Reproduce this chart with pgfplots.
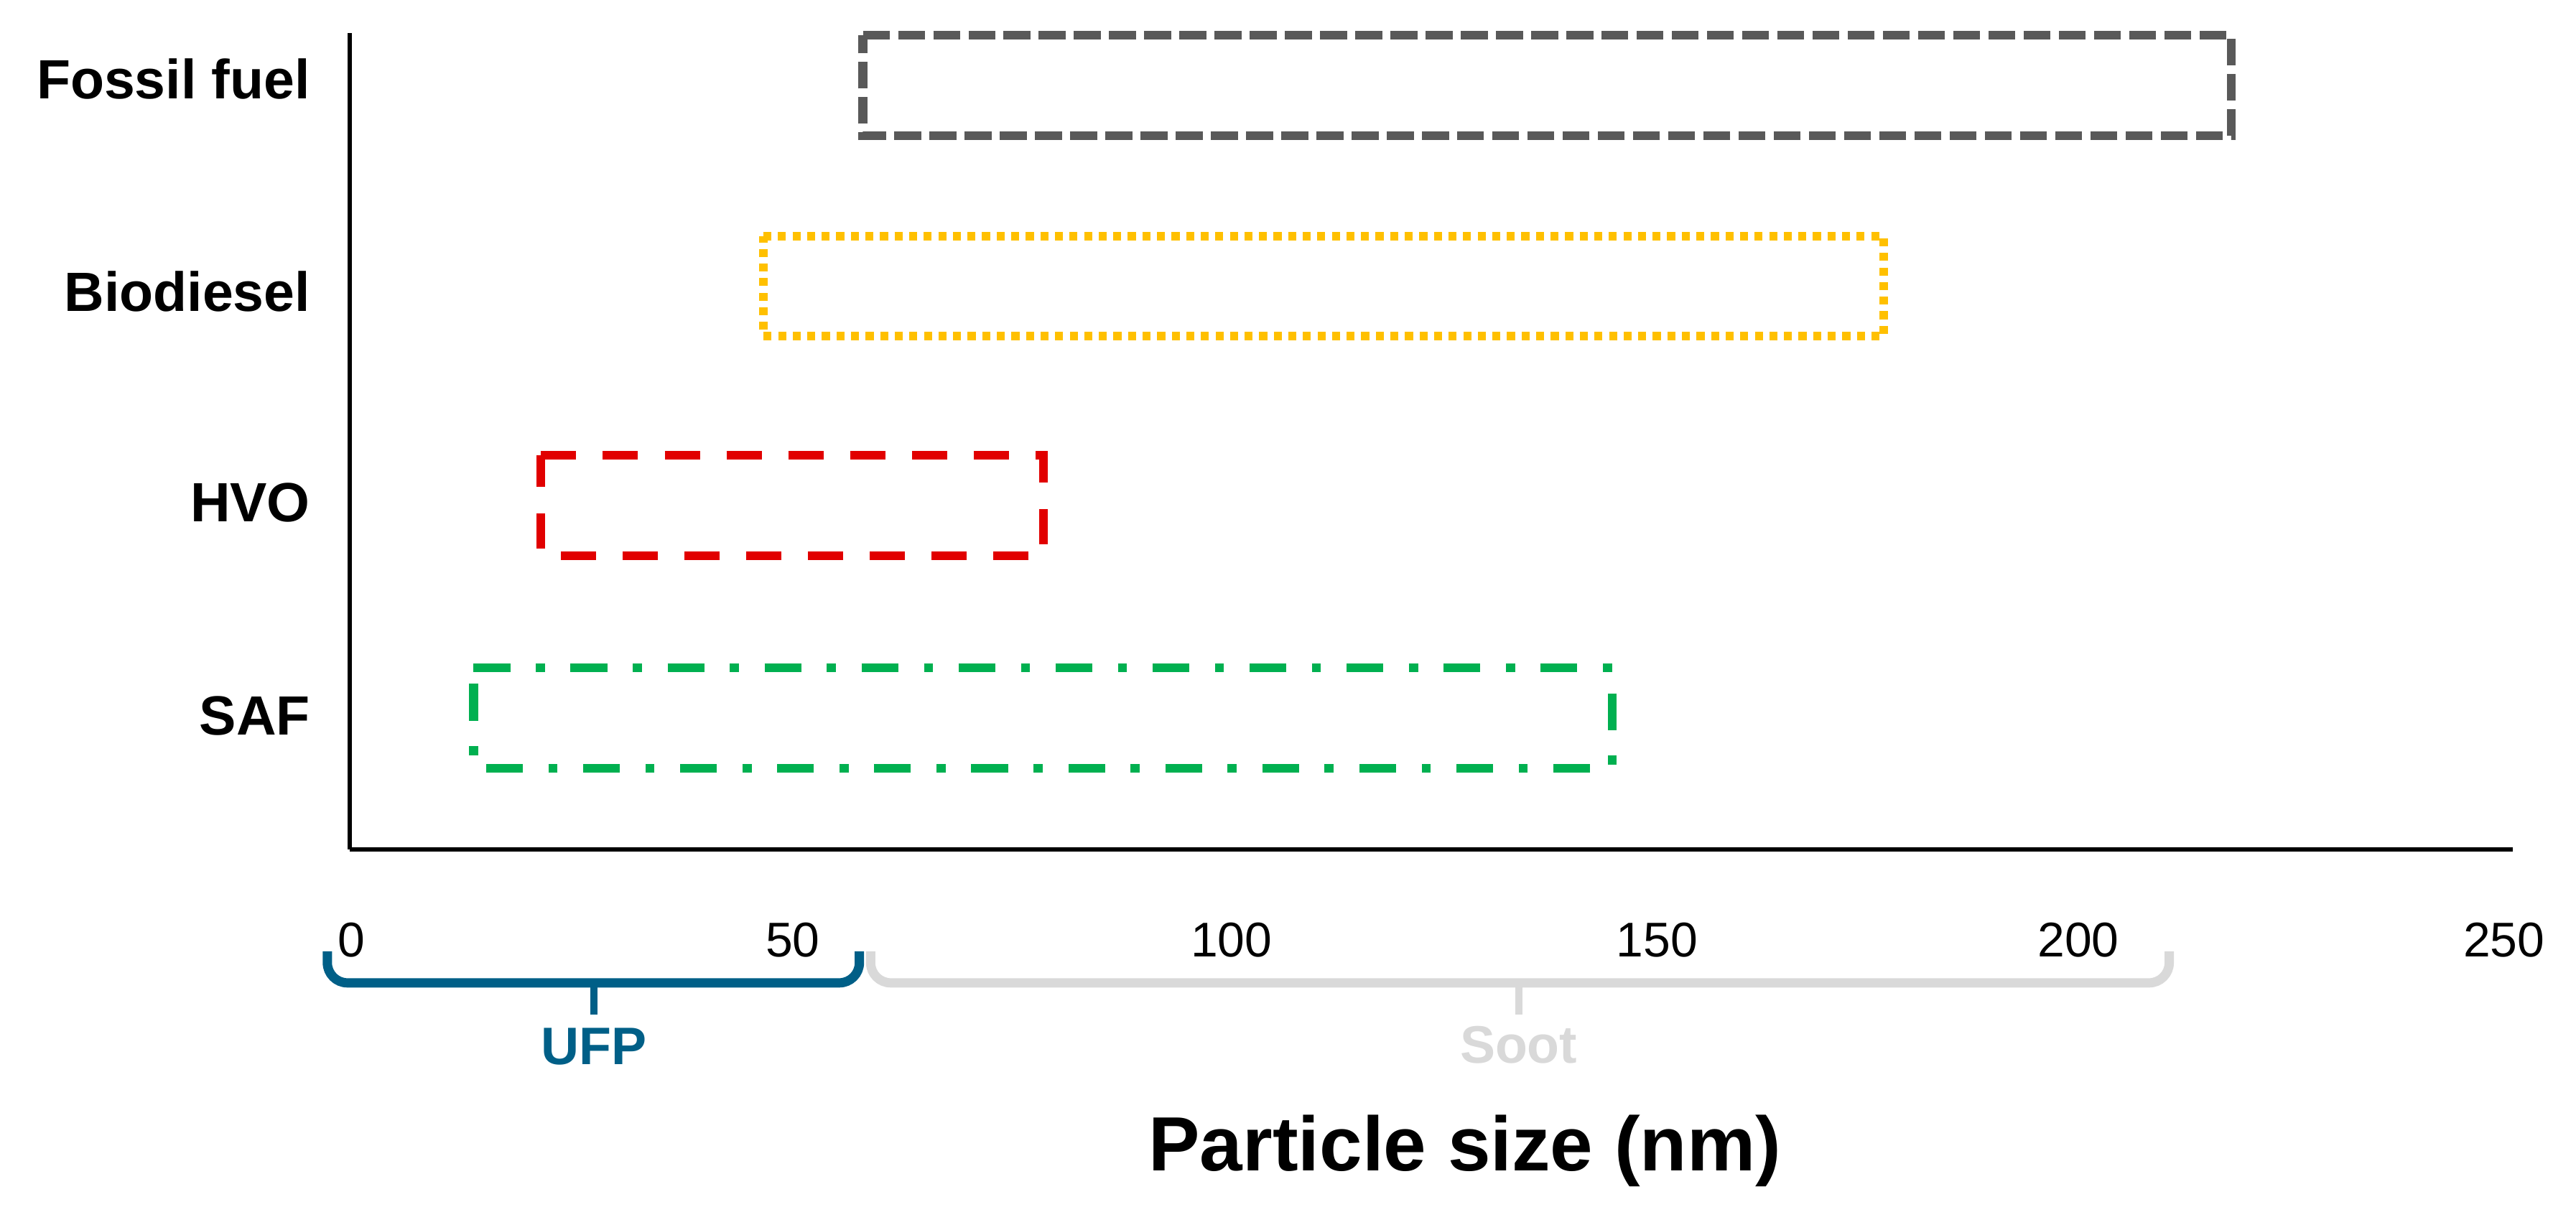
\documentclass[border=0pt]{standalone}
\usepackage{pgfplots}
\pgfplotsset{compat=1.18}
\usepackage{fontspec}
\setmainfont{Liberation Sans}
\definecolor{fossil}{HTML}{595959}
\definecolor{bio}{HTML}{FFC000}
\definecolor{hvo}{HTML}{E10000}
\definecolor{saf}{HTML}{00B050}
\definecolor{ufp}{HTML}{005F87}
\definecolor{soot}{HTML}{D9D9D9}
\begin{document}
\begin{tikzpicture}
\begin{axis}[
  name=ax,
  scale only axis, width=430.3pt, height=162.4pt,
  xmin=0, xmax=250, ymin=0, ymax=11.37,
  axis x line=bottom, axis y line=left,
  axis line style={-, line width=0.95pt, black},
  major tick length=0pt,
  xtick={0.2,51.2,101.9,151.1,199.8,249},
  xticklabels={0,50,100,150,200,250},
  xticklabel style={anchor=center, yshift=-18.0pt, font=\fontsize{9.7}{11}\selectfont},
  ytick={1.86,4.83,7.77,10.73},
  yticklabels={SAF,HVO,Biodiesel,Fossil fuel},
  yticklabel style={anchor=east, inner sep=0pt, xshift=-7.7pt, font=\fontsize{11}{13}\selectfont\bfseries},
  clip=false,
  xlabel={Particle size (nm)},
  xlabel style={at={(axis description cs:0.5156,0)}, anchor=base, yshift=-64pt, font=\fontsize{15.3}{18}\selectfont\bfseries},
]
% Fossil fuel
\addplot[fossil, line width=1.75pt, dash pattern=on 5.3pt off 1.7pt, mark=none]
  coordinates {(59.3,11.34) (217.5,11.34) (217.5,9.94) (59.3,9.94)} -- cycle;
% Biodiesel
\addplot[bio, line width=1.75pt, dash pattern=on 1.6pt off 1.3pt, mark=none]
  coordinates {(47.8,8.54) (177.3,8.54) (177.3,7.15) (47.8,7.15)} -- cycle;
% HVO
\addplot[hvo, line width=1.75pt, dash pattern=on 7pt off 5.3pt, mark=none]
  coordinates {(22.1,5.49) (80.2,5.49) (80.2,4.09) (22.1,4.09)} -- cycle;
% SAF
\addplot[saf, line width=1.75pt, dash pattern=on 7.3pt off 5.1pt on 1.8pt off 5.1pt, mark=none]
  coordinates {(14.3,2.53) (145.9,2.53) (145.9,1.13) (14.3,1.13)} -- cycle;

% UFP bracket
\draw[ufp, line width=1.85pt, rounded corners=4pt] (axis cs:-2.6,-1.42) -- (axis cs:-2.6,-1.86) -- (axis cs:58.9,-1.86) -- (axis cs:58.9,-1.42);
\draw[ufp, line width=1.4pt] (axis cs:28.2,-1.86) -- (axis cs:28.2,-2.30);
\node[ufp, font=\fontsize{10.5}{12}\selectfont\bfseries] at (axis cs:28.2,-2.75) {UFP};
% Soot bracket
\draw[soot, line width=1.85pt, rounded corners=4pt] (axis cs:60.2,-1.42) -- (axis cs:60.2,-1.86) -- (axis cs:210.3,-1.86) -- (axis cs:210.3,-1.42);
\draw[soot, line width=1.4pt] (axis cs:135.1,-1.86) -- (axis cs:135.1,-2.30);
\node[soot, font=\fontsize{10.5}{12}\selectfont\bfseries] at (axis cs:135.1,-2.72) {Soot};
\end{axis}
\pgfresetboundingbox
\path[use as bounding box] ([xshift=-69.6pt, yshift=-75.6pt]ax.south west) rectangle ([xshift=12.6pt, yshift=6.6pt]ax.north east);
\end{tikzpicture}
\end{document}
